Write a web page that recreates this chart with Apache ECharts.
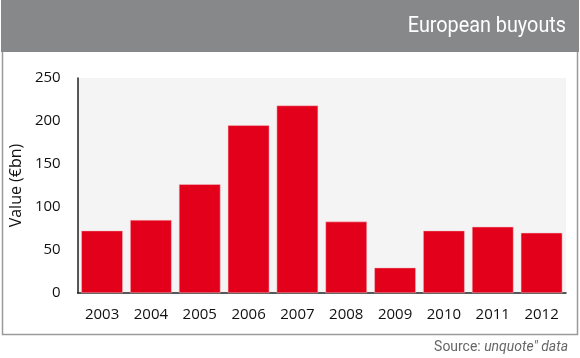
<!DOCTYPE html>
<html><head><meta charset="utf-8">
<script src="https://cdn.jsdelivr.net/npm/echarts@6/dist/echarts.min.js"></script>
<style>html,body{margin:0;padding:0;background:#fff}#c{width:580px;height:358px}</style>
</head><body><div id="c"></div>
<script>
const years = ['2003','2004','2005','2006','2007','2008','2009','2010','2011','2012'];
const values = [72.5, 85, 126.5, 195, 218, 83, 29.5, 72.5, 77, 70];
const yTicks = {min: 0, max: 250, interval: 50};
const titleText = 'European buyouts';
const yName = 'Value (€bn)';

const chart = echarts.init(document.getElementById('c'), null, {renderer: 'canvas'});
chart.setOption({
  animation: false,
  backgroundColor: '#fff',
  graphic: [
    {type: 'rect', shape: {x: 2.5, y: 0.5, width: 575, height: 334}, style: {fill: '#fff', stroke: '#9a9a9a', lineWidth: 1.5}, z: -10},
    {type: 'rect', shape: {x: 1, y: 0, width: 578, height: 52}, style: {fill: '#87888a'}, z: -9},
    {type: 'text', x: 566, y: 26, scaleX: 0.9, style: {x: 0, y: 0, text: titleText, fill: '#fff', textAlign: 'right', textVerticalAlign: 'middle', font: '22px Roboto, sans-serif'}},
    {type: 'text', x: 568, y: 347, scaleX: 0.93, style: {x: 0, y: 0, textAlign: 'right', textVerticalAlign: 'middle', rich: {n: {fill: '#666', font: '15px Roboto, sans-serif'}, i: {fill: '#666', font: 'italic 15px Roboto, sans-serif'}}, text: '{n|Source: }{i|unquote" data}'}}
  ],
  grid: {left: 69, right: 14, top: 78, bottom: 65, show: true, backgroundColor: '#f4f4f4', borderWidth: 0},
  xAxis: {
    type: 'category', data: years,
    axisLine: {lineStyle: {color: '#222', width: 1.5}},
    axisTick: {inside: true, length: 4, lineStyle: {color: '#222', width: 1.5}},
    axisLabel: {color: '#111', fontSize: 15, fontFamily: 'Open Sans', margin: 14, interval: 0}
  },
  yAxis: {
    type: 'value', min: yTicks.min, max: yTicks.max, interval: yTicks.interval,
    name: yName, nameLocation: 'middle', nameGap: 41,
    nameTextStyle: {color: '#111', fontSize: 16, fontFamily: 'Open Sans'},
    axisLine: {show: true, lineStyle: {color: '#222', width: 1.5}},
    axisTick: {show: false},
    splitLine: {show: false},
    axisLabel: {color: '#111', fontSize: 15, fontFamily: 'Open Sans', margin: 17}
  },
  series: [{
    type: 'bar', data: values, barCategoryGap: '15%',
    itemStyle: {color: '#e2001a', borderColor: '#f6c6cb', borderWidth: 0.5}
  }]
});
</script></body></html>
